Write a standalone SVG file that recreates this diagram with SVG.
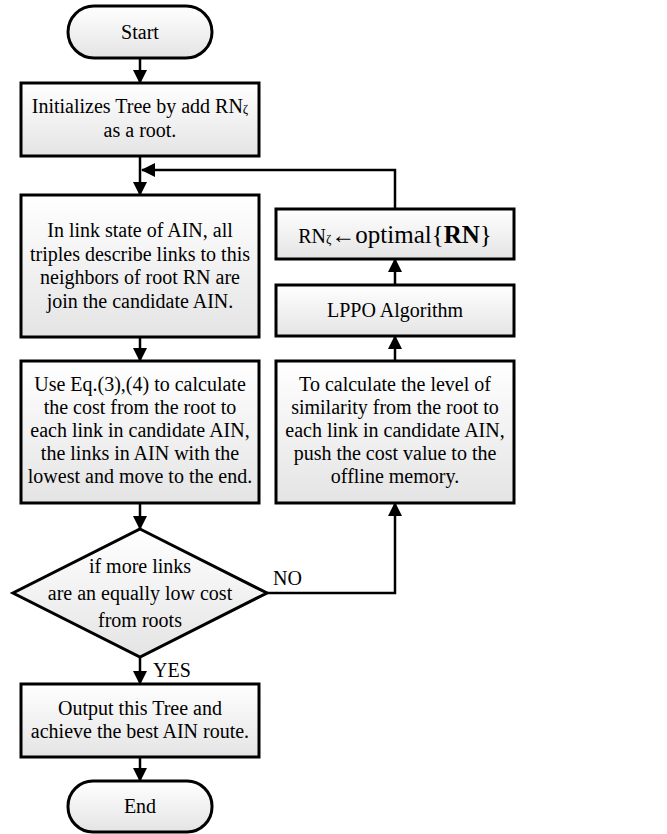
<svg xmlns="http://www.w3.org/2000/svg" width="667" height="834" viewBox="0 0 667 834">
<style>
.box{stroke:#000;stroke-width:3;fill:url(#g)}
.t{font-family:"Liberation Serif","Times New Roman",serif;font-size:20px;fill:#000;text-anchor:middle}
.c{fill:none;stroke:#000;stroke-width:2.5}
.lbl{font-family:"Liberation Serif","Times New Roman",serif;font-size:20px;fill:#000}
</style>
<defs>
<linearGradient id="g" x1="0" y1="0" x2="0" y2="1">
<stop offset="0" stop-color="#ffffff"/>
<stop offset="1" stop-color="#e4e4e4"/>
</linearGradient>
<marker id="a" viewBox="0 0 14 14" refX="13" refY="7" markerWidth="14" markerHeight="14" markerUnits="userSpaceOnUse" orient="auto">
<path d="M0,0 L14,7 L0,14 z" fill="#000"/>
</marker>
</defs>
<g id="start"><rect class="box" x="68" y="6" width="144" height="52" rx="26"/><text class="t" x="140" y="39">Start</text></g>
<g id="init"><rect class="box" x="21" y="83" width="238" height="73"/><text class="t" x="140" y="113">Initializes Tree by add RN<tspan font-size="13">ζ</tspan></text><text class="t" x="140" y="137">as a root.</text></g>
<g id="linkstate"><rect class="box" x="21" y="195" width="238" height="142"/>
<text class="t" x="140" y="237">In link state of AIN, all</text>
<text class="t" x="140" y="260.5">triples describe links to this</text>
<text class="t" x="140" y="284">neighbors of root RN are</text>
<text class="t" x="140" y="307.5">join the candidate AIN.</text></g>
<g id="cost"><rect class="box" x="21" y="361" width="238" height="142"/>
<text class="t" x="140" y="391">Use Eq.(3),(4) to calculate</text>
<text class="t" x="140" y="414">the cost from the root to</text>
<text class="t" x="140" y="437">each link in candidate AIN,</text>
<text class="t" x="140" y="460">the links in AIN with the</text>
<text class="t" x="140" y="483">lowest and move to the end.</text></g>
<g id="decision"><polygon class="box" points="140,529 267,593 140,657 13,593"/>
<text class="t" x="140" y="573">if more links</text>
<text class="t" x="140" y="600">are an equally low cost</text>
<text class="t" x="140" y="627">from roots</text></g>
<g id="output"><rect class="box" x="21" y="684" width="238" height="73"/>
<text class="t" x="140" y="715">Output this Tree and</text>
<text class="t" x="140" y="738">achieve the best AIN route.</text></g>
<g id="end"><rect class="box" x="68" y="781" width="144" height="51" rx="25"/><text class="t" x="140" y="813">End</text></g>
<g id="optimal"><rect class="box" x="276" y="209" width="238" height="50"/>
<text class="t" x="395" y="243">RN<tspan font-size="13">ζ</tspan><tspan font-size="24">←</tspan><tspan font-size="25">optimal{<tspan font-weight="bold">RN</tspan>}</tspan></text></g>
<g id="lppo"><rect class="box" x="276" y="285" width="238" height="51"/>
<text class="t" x="395" y="317">LPPO Algorithm</text></g>
<g id="similarity"><rect class="box" x="276" y="361" width="238" height="142"/>
<text class="t" x="395" y="391">To calculate the level of</text>
<text class="t" x="395" y="414">similarity from the root to</text>
<text class="t" x="395" y="437">each link in candidate AIN,</text>
<text class="t" x="395" y="460">push the cost value to the</text>
<text class="t" x="395" y="483">offline memory.</text></g>
<g id="connectors">
<path class="c" d="M140,58 L140,83" marker-end="url(#a)"/>
<path class="c" d="M140,156 L140,195" marker-end="url(#a)"/>
<path class="c" d="M395,209 L395,170 L142,170" marker-end="url(#a)"/>
<path class="c" d="M140,337 L140,361" marker-end="url(#a)"/>
<path class="c" d="M140,503 L140,529" marker-end="url(#a)"/>
<path class="c" d="M140,657 L140,684" marker-end="url(#a)"/>
<path class="c" d="M140,757 L140,781" marker-end="url(#a)"/>
<path class="c" d="M267,593 L395,593 L395,503" marker-end="url(#a)"/>
<path class="c" d="M395,361 L395,336" marker-end="url(#a)"/>
<path class="c" d="M395,285 L395,259" marker-end="url(#a)"/>
<text class="lbl" x="273" y="585">NO</text>
<text class="lbl" x="153" y="677">YES</text>
</g>
</svg>
